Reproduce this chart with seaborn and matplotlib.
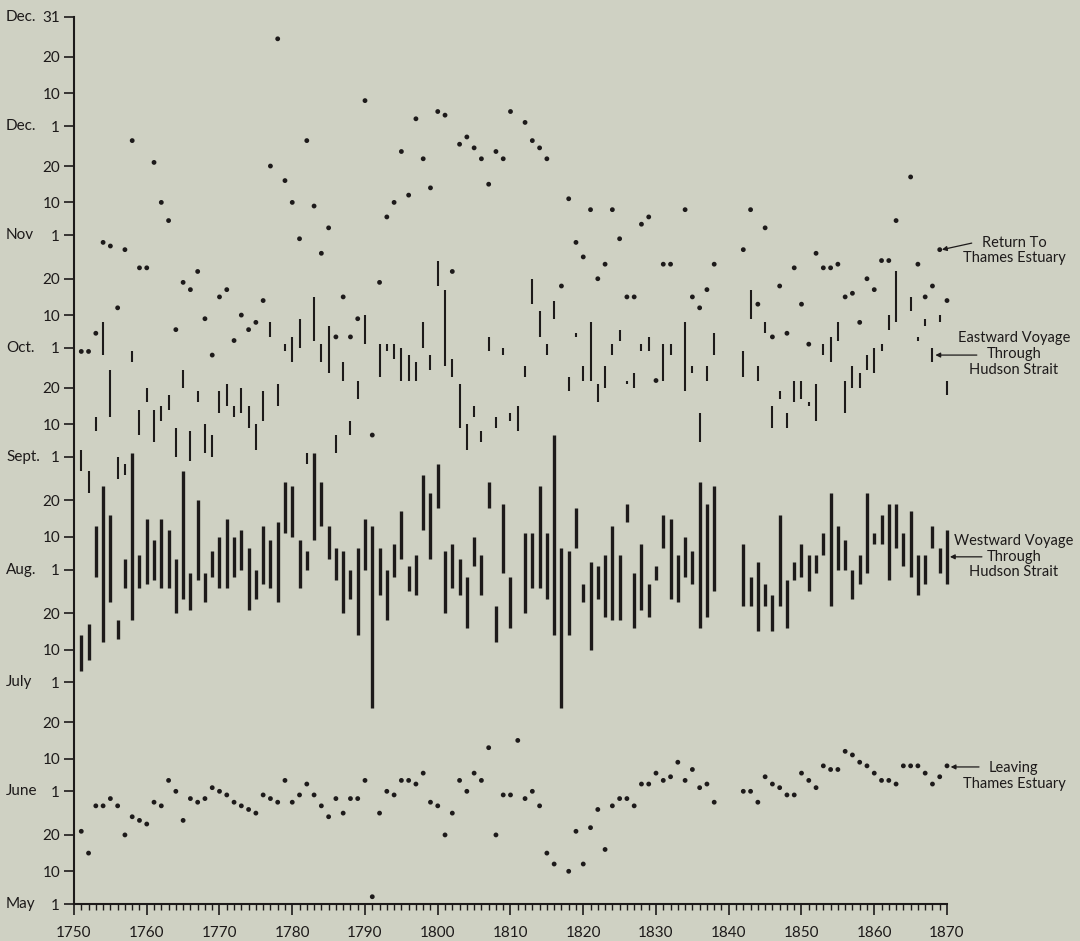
import numpy as np
import pandas as pd
import matplotlib
matplotlib.use('Agg')
import matplotlib.pyplot as plt
import matplotlib.transforms as mtransforms
import seaborn as sns

nan = np.nan

# one value per year 1751..1870, day of year (May 1 = 121, Dec 31 = 365)
years = list(range(1751, 1871))

leave_day = [
    141, 135, 148, 148, 150, 148, 140, 145, 144, 143,
    149, 148, 155, 152, 144, 150, 149, 150, 153, 152,
    151, 149, 148, 147, 146, 151, 150, 149, 155, 149,
    151, 154, 151, 148, 145, 150, 146, 150, 150, 155,
    123, 146, 152, 151, 155, 155, 154, 157, 149, 148,
    140, 146, 155, 152, 157, 155, 164, 140, 151, 151,
    166, 150, 152, 148, 135, 132, nan, 130, 141, 132,
    142, 147, 136, 148, 150, 150, 148, 154, 154, 157,
    155, 156, 160, 155, 158, 153, 154, 149, nan, nan,
    nan, 152, 152, 149, 156, 154, 153, 151, 151, 157,
    155, 153, 159, 158, 158, 163, 162, 160, 159, 157,
    155, 155, 154, 159, 159, 159, 157, 154, 156, 159,
]

return_day = [
    273, 273, 278, 303, 302, 285, 301, 331, 296, 296,
    325, 314, 309, 279, 292, 290, 295, 282, 272, 288,
    290, 276, 283, 279, 281, 287, 324, 359, 320, 314,
    304, 331, 313, 300, 307, 277, 288, 277, 282, 342,
    nan, 292, 310, 314, 328, 316, 337, 326, 318, 339,
    338, 295, 330, 332, 329, 326, 319, 328, 326, 339,
    nan, 336, 331, 329, 326, nan, 291, 315, 303, 299,
    312, 293, 297, 312, 304, 288, 288, 308, 310, nan,
    297, 297, nan, 312, 288, 285, 290, 297, nan, nan,
    nan, 301, 312, 286, 307, 277, 291, 278, 296, 286,
    275, 300, 296, 296, 297, 288, 289, 281, 293, 290,
    298, 298, 309, nan, 321, 297, 288, 291, 301, 287,
]

# eastward voyage through Hudson Strait: first and last day
east_start = [
    240, 234, 251, 272, 255, 238, 239, 270, 250, 259,
    248, 254, 257, 244, 263, 243, 259, 245, 244, 256,
    258, 255, 256, 252, 246, 254, 277, 258, 273, 270,
    274, 242, 276, 270, 267, 245, 265, 250, 260, 275,
    250, 266, 273, 271, 265, 265, 265, 274, 268, 291,
    269, 266, 252, 246, 255, 248, 273, 252, 272, 254,
    251, 266, 286, 277, 272, 282, nan, 262, 277, 265,
    265, 259, 263, 272, 276, 264, 263, 273, 273, 265,
    265, 272, nan, 262, 267, 248, 265, 272, nan, nan,
    nan, 266, 282, 265, 278, 252, 260, 252, 259, 260,
    258, 254, 272, 270, 276, 256, 263, 263, 268, 267,
    273, 279, 281, nan, 284, 276, 280, 270, 281, 261,
]
east_end = [
    246, 240, 255, 281, 268, 244, 242, 273, 257, 263,
    257, 258, 261, 252, 268, 251, 262, 253, 250, 262,
    264, 258, 263, 258, 253, 262, 281, 264, 275, 277,
    282, 245, 288, 275, 280, 250, 270, 254, 265, 283,
    250, 275, 275, 275, 274, 272, 270, 281, 272, 298,
    290, 271, 264, 253, 258, 251, 277, 255, 274, 256,
    258, 269, 293, 284, 275, 287, nan, 266, 278, 269,
    281, 264, 269, 275, 279, 265, 267, 275, 277, 265,
    275, 275, nan, 281, 269, 256, 269, 278, nan, nan,
    nan, 273, 290, 269, 281, 258, 262, 256, 265, 265,
    259, 264, 275, 277, 281, 265, 269, 267, 272, 274,
    275, 283, 295, nan, 288, 277, 282, 274, 283, 265,
]

# westward voyage through Hudson Strait: first and last day
west_start = [
    185, 188, 211, 193, 204, 194, 208, 199, 208, 209,
    210, 208, 208, 201, 205, 202, 210, 204, 211, 208,
    208, 211, 213, 202, 205, 209, 208, 204, 223, 222,
    208, 213, 221, 225, 216, 210, 201, 205, 195, 213,
    175, 206, 199, 211, 216, 207, 206, 224, 216, 230,
    201, 208, 206, 197, 214, 206, 230, 193, 212, 197,
    nan, 201, 208, 208, 205, 195, 175, 195, 219, 204,
    191, 205, 200, 199, 199, 226, 197, 202, 200, 210,
    219, 205, 204, 211, 209, 197, 200, 207, nan, nan,
    nan, 203, 203, 196, 203, 196, 203, 197, 210, 211,
    207, 212, 217, 203, 213, 213, 205, 209, 212, 220,
    220, 210, 219, 214, 211, 206, 209, 219, 212, 209,
]
west_end = [
    195, 198, 225, 236, 228, 199, 216, 245, 217, 227,
    221, 227, 224, 216, 240, 212, 232, 212, 218, 222,
    227, 222, 224, 219, 213, 225, 221, 226, 237, 236,
    221, 218, 245, 237, 225, 219, 218, 213, 219, 227,
    225, 219, 213, 220, 229, 214, 217, 239, 234, 242,
    218, 220, 216, 211, 222, 217, 237, 203, 231, 211,
    nan, 223, 223, 236, 223, 250, 219, 218, 230, 209,
    215, 214, 217, 225, 217, 231, 212, 220, 209, 214,
    228, 227, 217, 222, 218, 237, 231, 236, nan, nan,
    nan, 220, 211, 215, 209, 206, 228, 210, 215, 220,
    217, 217, 223, 234, 225, 221, 213, 217, 234, 223,
    228, 231, 231, 223, 229, 217, 217, 225, 219, 224,
]

tick_days = [121, 130, 140, 152, 161, 171, 182, 191, 201, 213, 222, 232,
             244, 253, 263, 274, 283, 293, 305, 314, 324, 335, 344, 354, 365]
tick_labels = ['1', '10', '20', '1', '10', '20', '1', '10', '20', '1', '10', '20',
               '1', '10', '20', '1', '10', '20', '1', '10', '20', '1', '10', '20', '31']
month_days = [121, 152, 182, 213, 244, 274, 305, 335, 365]
month_names = ['May', 'June', 'July', 'Aug.', 'Sept.', 'Oct.', 'Nov', 'Dec.', 'Dec.']

ink = '#1d1a1a'
paper = '#cfd1c3'

sns.set_theme(style='ticks', rc={'axes.facecolor': paper, 'figure.facecolor': paper})
plt.rcParams['font.family'] = ['Lato', 'DejaVu Sans']

df = pd.DataFrame({'year': years, 'leave': leave_day, 'ret': return_day,
                   'e0': east_start, 'e1': east_end, 'w0': west_start, 'w1': west_end})

fig = plt.figure(figsize=(10.8, 9.41), dpi=100)
ax = fig.add_axes([74 / 1080, 37 / 941, 873 / 1080, 887 / 941])

# westward and eastward voyages as bars
wd = df.dropna(subset=['w0'])
ax.vlines(wd['year'], wd['w0'], wd['w1'], color=ink, lw=2.4, clip_on=False)
ed = df.dropna(subset=['e0'])
ax.vlines(ed['year'], ed['e0'], ed['e1'], color=ink, lw=1.5, clip_on=False)
single = ed[ed['e0'] == ed['e1']]

# departures and returns as dots
for col in ['leave', 'ret']:
    sns.scatterplot(data=df, x='year', y=col, s=12, color=ink, edgecolor='none',
                    ax=ax, clip_on=False, legend=False)
sns.scatterplot(data=single, x='year', y='e0', s=12, color=ink, edgecolor='none',
                ax=ax, clip_on=False, legend=False)

ax.set_xlim(1750, 1870)
ax.set_ylim(121, 365)
ax.set_xlabel('')
ax.set_ylabel('')
ax.set_xticks(range(1750, 1871, 10))
ax.set_xticks(range(1750, 1871), minor=True)
ax.set_yticks(tick_days)
ax.set_yticklabels(tick_labels)
ax.tick_params(axis='x', which='major', length=8, width=1.2, pad=8, labelsize=11, colors=ink)
ax.tick_params(axis='x', which='minor', length=4, width=1.0, colors=ink)
ax.tick_params(axis='y', length=7, width=1.2, pad=3, labelsize=11, colors=ink)
sns.despine(ax=ax)
for s in ['left', 'bottom']:
    ax.spines[s].set_linewidth(1.5)
    ax.spines[s].set_color(ink)

# month names at the far left
trans = mtransforms.blended_transform_factory(fig.transFigure, ax.transData)
for d, name in zip(month_days, month_names):
    ax.text(6 / 1080, d, name, transform=trans, ha='left', va='center',
            fontsize=11, color=ink)

# labels with arrows on the right
def label(text, ty, tip, tail, fs=10.5):
    ax.text(1879.2, ty, text, ha='center', va='center', fontsize=fs, color=ink,
            linespacing=1.15, clip_on=False)
    ax.annotate('', xy=tip, xytext=tail, annotation_clip=False,
                arrowprops=dict(arrowstyle='-|>', color=ink, lw=0.9, mutation_scale=7,
                                shrinkA=0, shrinkB=0))

label('Return To\nThames Estuary', 300.8, (1869.3, 301), (1873.4, 302.8))
label('Eastward Voyage\nThrough\nHudson Strait', 272.3, (1868.4, 272), (1874.1, 272))
label('Westward Voyage\nThrough\nHudson Strait', 216.5, (1870.4, 216.5), (1874.8, 216.5))
label('Leaving\nThames Estuary', 156.3, (1870.5, 158.7), (1874.4, 158.7))

fig.savefig('out.png', dpi=100, facecolor=paper)
